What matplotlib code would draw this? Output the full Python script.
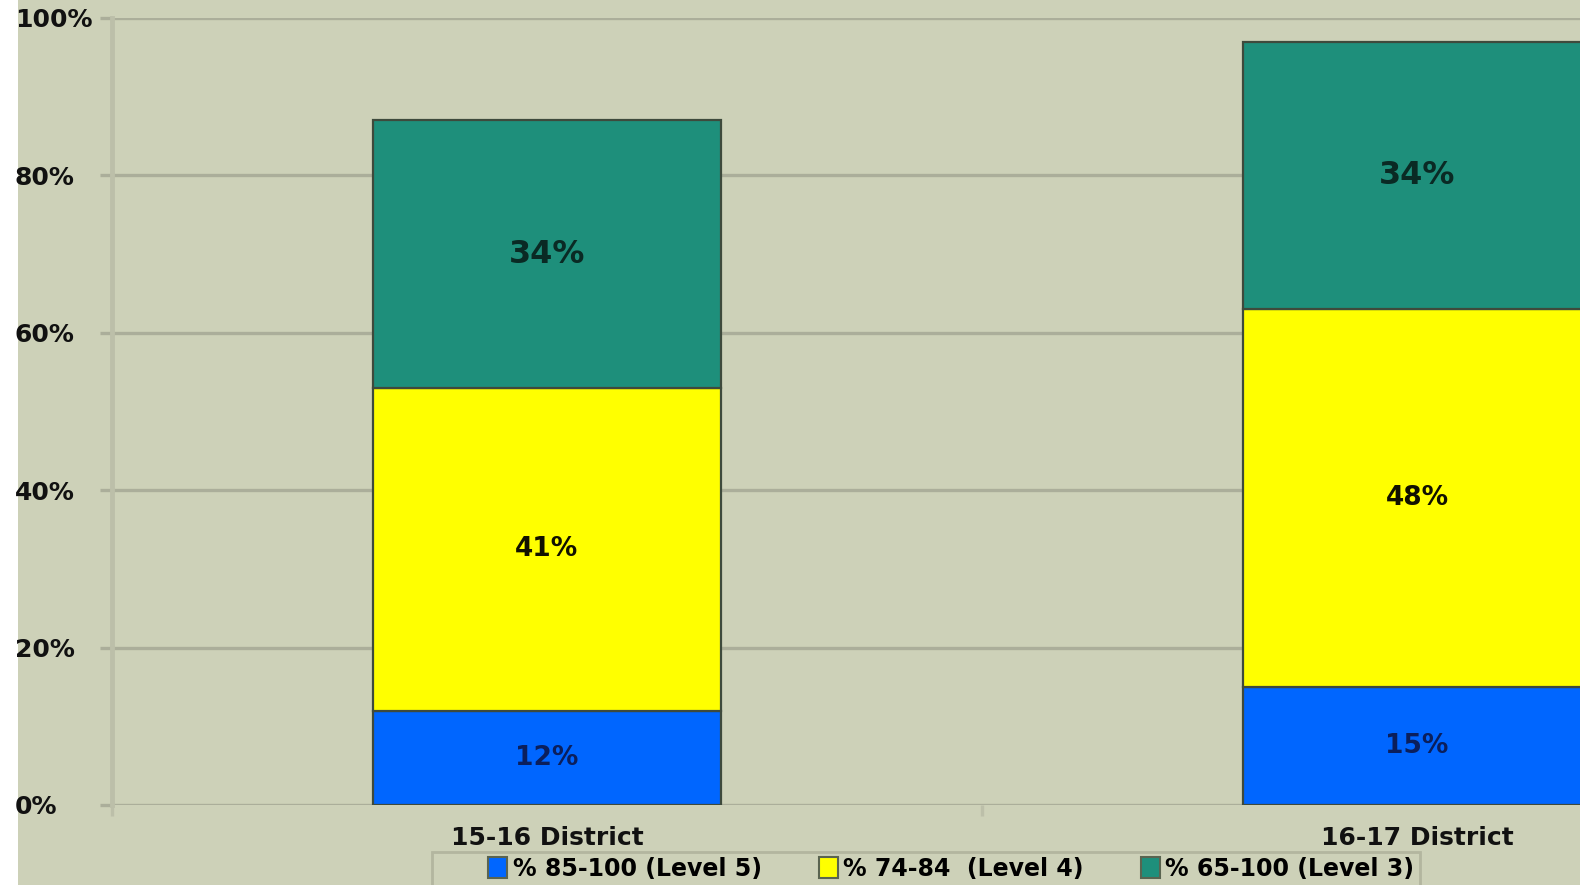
import matplotlib
matplotlib.use("Agg")
import matplotlib.pyplot as plt
from matplotlib.patches import Rectangle, Patch

categories = ["15-16 District", "16-17 District"]
series_names = ["% 85-100 (Level 5)", "% 74-84  (Level 4)", "% 65-100 (Level 3)"]
level5 = [12, 15]
level4 = [41, 48]
level3 = [34, 34]
y_ticks = [0, 20, 40, 60, 80, 100]
y_tick_labels = ["0%", "20%", "40%", "60%", "80%", "100%"]

bg = "#cdd1b8"
grid_col = "#abae9a"
colors = ["#0066ff", "#ffff00", "#1e8f7b"]
text_colors = ["#0b1f5c", "#111100", "#0a2a24"]
label_sizes = [19, 19, 23]

W, H = 1580, 885
fig = plt.figure(figsize=(W / 100, H / 100), dpi=100)
fig.patch.set_facecolor(bg)
fig.patches.append(Rectangle((0, 0), 18 / W, 1, transform=fig.transFigure,
                             facecolor="white", edgecolor="none", zorder=-2))

# axes runs past the right edge, like in the original export
left, bottom, top = 112 / W, (H - 805) / H, (H - 18) / H
ax = fig.add_axes([left, bottom, 1740 / W, top - bottom])
ax.set_facecolor(bg)
ax.patch.set_alpha(0)

x = list(range(len(categories)))
bottoms = [0] * len(categories)
for vals, c, tc, fs in zip([level5, level4, level3], colors, text_colors, label_sizes):
    bars = ax.bar(x, vals, width=0.4, bottom=bottoms, color=c,
                  edgecolor="#3e4a3c", linewidth=1.6, zorder=3)
    for b, v, b0 in zip(bars, vals, bottoms):
        ax.text(b.get_x() + b.get_width() / 2, b0 + v / 2, f"{v}%",
                ha="center", va="center", fontsize=fs, fontweight="bold",
                color=tc, zorder=4)
    bottoms = [b0 + v for b0, v in zip(bottoms, vals)]

ax.set_xlim(-0.5, len(categories) - 0.5)
ax.set_ylim(0, 100)
ax.set_yticks(y_ticks)
ax.set_yticklabels(y_tick_labels)
ax.grid(axis="y", color=grid_col, linewidth=2.4, zorder=1)
ax.set_axisbelow(True)

for s in ["top", "right", "bottom"]:
    ax.spines[s].set_visible(False)
ax.spines["left"].set_color("#bcbfa9")
ax.spines["left"].set_linewidth(3.5)

ax.tick_params(axis="y", length=9, width=2.4, color=grid_col, pad=61)
for lbl in ax.get_yticklabels():
    lbl.set_horizontalalignment("left")
    lbl.set_fontsize(18)
    lbl.set_fontweight("bold")
    lbl.set_color("#111111")

ax.set_xticks(x)
ax.set_xticklabels(categories, fontsize=18, fontweight="bold", color="#111111")
ax.tick_params(axis="x", which="major", length=0, pad=15)
ax.set_xticks([-0.5, 0.5, 1.5], minor=True)
ax.tick_params(axis="x", which="minor", length=8, width=2.4, color="#bcbfa9")

# legend frame drawn separately so the entries can sit to the right
fig.patches.append(Rectangle((432 / W, -0.05), (1420 - 432) / W, 0.05 + (H - 852) / H,
                             transform=fig.transFigure, facecolor=bg,
                             edgecolor="#b3b69f", linewidth=2, zorder=-1))
handles = [Patch(facecolor=c, edgecolor="#5a6450", linewidth=1.5) for c in colors]
fig.legend(handles, series_names, loc="upper right", ncol=3,
           bbox_to_anchor=(1418 / W, (H - 853) / H), borderaxespad=0, borderpad=0.15,
           frameon=False, handlelength=0.8, handleheight=1.0, handletextpad=0.25,
           columnspacing=2.4, prop={"size": 17, "weight": "bold"})

fig.savefig("out.png", dpi=100, facecolor=bg)
